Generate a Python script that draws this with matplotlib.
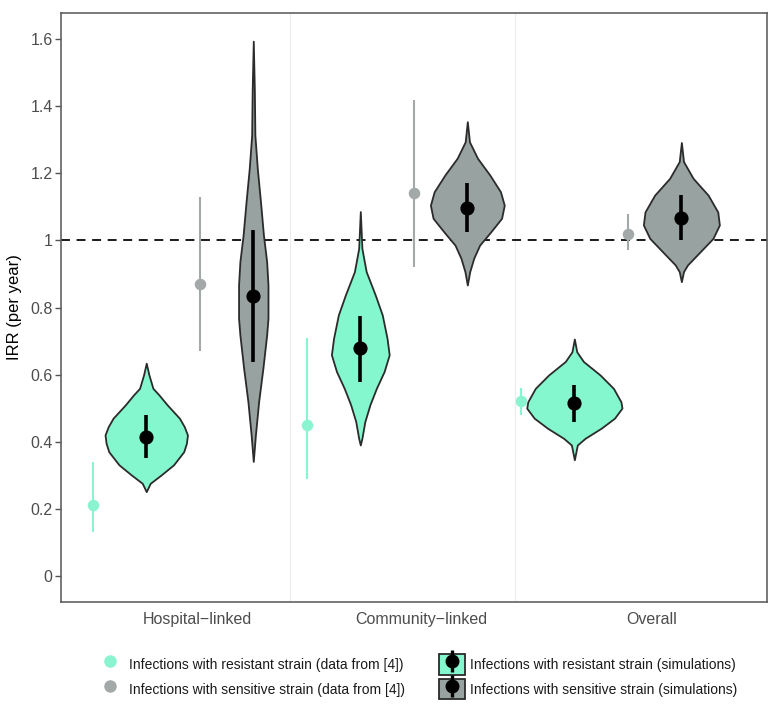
import matplotlib
matplotlib.use("Agg")
import matplotlib.pyplot as plt
from matplotlib.lines import Line2D
from matplotlib.patches import Patch
from matplotlib.legend_handler import HandlerTuple

plt.rcParams['font.family'] = ['Liberation Sans', 'DejaVu Sans']

# ---- data ----
categories = ["Hospital\u2212linked", "Community\u2212linked", "Overall"]

# observed IRR (data from [4]): point estimate and interval
obs_res_mid = [0.21, 0.45, 0.52]
obs_res_lo = [0.13, 0.29, 0.48]
obs_res_hi = [0.34, 0.71, 0.56]
obs_sen_mid = [0.87, 1.14, 1.02]
obs_sen_lo = [0.67, 0.92, 0.97]
obs_sen_hi = [1.13, 1.42, 1.08]

# simulated IRR: median and interval
sim_res_mid = [0.415, 0.678, 0.514]
sim_res_lo = [0.352, 0.579, 0.460]
sim_res_hi = [0.480, 0.775, 0.569]
sim_sen_mid = [0.834, 1.098, 1.068]
sim_sen_lo = [0.637, 1.026, 1.001]
sim_sen_hi = [1.031, 1.170, 1.135]

# violin outlines: IRR levels and half-widths
vio_res_y = [
    [0.634, 0.599, 0.559, 0.539, 0.510, 0.470, 0.445, 0.420, 0.395, 0.370, 0.331, 0.301, 0.276, 0.251],
    [1.086, 0.976, 0.907, 0.837, 0.778, 0.708, 0.659, 0.609, 0.559, 0.510, 0.460, 0.410, 0.390],
    [0.706, 0.668, 0.639, 0.599, 0.559, 0.519, 0.500, 0.470, 0.440, 0.410, 0.390, 0.346],
]
vio_res_w = [
    [0.0, 0.05, 0.125, 0.24, 0.39, 0.62, 0.71, 0.77, 0.75, 0.70, 0.51, 0.28, 0.075, 0.0],
    [0.0, 0.03, 0.11, 0.28, 0.41, 0.50, 0.54, 0.445, 0.30, 0.18, 0.085, 0.03, 0.0],
    [0.0, 0.045, 0.17, 0.48, 0.73, 0.87, 0.89, 0.75, 0.50, 0.20, 0.055, 0.0],
]
vio_sen_y = [
    [1.594, 1.45, 1.314, 1.215, 1.115, 1.016, 0.937, 0.867, 0.768, 0.718, 0.619, 0.519, 0.420, 0.341],
    [1.354, 1.294, 1.245, 1.195, 1.145, 1.105, 1.066, 1.026, 0.986, 0.947, 0.907, 0.867],
    [1.292, 1.235, 1.185, 1.135, 1.085, 1.046, 1.006, 0.966, 0.927, 0.907, 0.877],
]
vio_sen_w = [
    [0.0, 0.02, 0.03, 0.075, 0.135, 0.19, 0.25, 0.275, 0.275, 0.25, 0.18, 0.10, 0.04, 0.0],
    [0.0, 0.04, 0.19, 0.42, 0.62, 0.69, 0.64, 0.44, 0.23, 0.12, 0.045, 0.0],
    [0.0, 0.04, 0.22, 0.50, 0.68, 0.71, 0.59, 0.35, 0.115, 0.04, 0.0],
]

yticks = [0, 0.2, 0.4, 0.6, 0.8, 1.0, 1.2, 1.4, 1.6]
ytick_labels = ["0", "0.2", "0.4", "0.6", "0.8", "1", "1.2", "1.4", "1.6"]

# ---- styling ----
RES_FILL = "#85f7cf"
SEN_FILL = "#98a2a1"
RES_PT = "#8af3cf"
SEN_PT = "#a3a9a8"
EDGE = "#2b2b2b"

fig = plt.figure(figsize=(7.84, 7.17), dpi=100)
ax = fig.add_axes([61 / 784, 115 / 717, 706 / 784, 589 / 717])

# separators between groups
for xs in [3.69, 7.89]:
    ax.axvline(xs, color="#ececec", lw=0.8, zorder=0)

ax.axhline(1.0, color="#1a1a1a", lw=1.4, dashes=(4.6, 3.4), zorder=1)

for g in range(3):
    base = 4 * g
    # observed resistant
    ax.vlines(base, obs_res_lo[g], obs_res_hi[g], color=RES_PT, lw=1.5, zorder=2)
    ax.plot(base, obs_res_mid[g], "o", color=RES_PT, ms=8.3, mec="none", zorder=3)
    # simulated resistant
    ax.fill_betweenx(vio_res_y[g], [base + 1 - w for w in vio_res_w[g]],
                     [base + 1 + w for w in vio_res_w[g]],
                     facecolor=RES_FILL, edgecolor=EDGE, lw=1.3, zorder=2)
    ax.vlines(base + 1, sim_res_lo[g], sim_res_hi[g], color="black", lw=2.6, zorder=4)
    ax.plot(base + 1, sim_res_mid[g], "o", color="black", ms=9.2, zorder=5)
    # observed sensitive
    ax.vlines(base + 2, obs_sen_lo[g], obs_sen_hi[g], color=SEN_PT, lw=1.5, zorder=2)
    ax.plot(base + 2, obs_sen_mid[g], "o", color=SEN_PT, ms=8.3, mec="none", zorder=3)
    # simulated sensitive
    ax.fill_betweenx(vio_sen_y[g], [base + 3 - w for w in vio_sen_w[g]],
                     [base + 3 + w for w in vio_sen_w[g]],
                     facecolor=SEN_FILL, edgecolor=EDGE, lw=1.3, zorder=2)
    ax.vlines(base + 3, sim_sen_lo[g], sim_sen_hi[g], color="black", lw=2.6, zorder=4)
    ax.plot(base + 3, sim_sen_mid[g], "o", color="black", ms=9.2, zorder=5)

ax.set_xlim(-0.593, 12.60)
ax.set_ylim(-0.078, 1.678)
ax.set_xticks([1.95, 6.14, 10.44])
ax.set_xticklabels(categories)
ax.set_yticks(yticks)
ax.set_yticklabels(ytick_labels)
ax.tick_params(axis="x", length=0, pad=7, labelsize=11.5, labelcolor="#4d4d4d")
ax.tick_params(axis="y", length=4, width=1, color="#555555", pad=2,
               labelsize=11.5, labelcolor="#4d4d4d")
for s in ax.spines.values():
    s.set_color("#555555")
    s.set_linewidth(1.1)
ax.set_ylabel("IRR (per year)", fontsize=12, color="black", labelpad=6)

# ---- legend ----
h_obs_res = Line2D([], [], ls="none", marker="o", color=RES_PT, ms=9, mec="none")
h_obs_sen = Line2D([], [], ls="none", marker="o", color=SEN_PT, ms=9, mec="none")


def sim_handle(fill):
    box = Patch(facecolor=fill, edgecolor=EDGE, lw=1.3)
    bar = Line2D([], [], ls="none", marker="|", color="black", ms=16.5, mew=2.4)
    dot = Line2D([], [], ls="none", marker="o", color="black", ms=9)
    return (box, bar, dot)


handles = [h_obs_res, h_obs_sen, sim_handle(RES_FILL), sim_handle(SEN_FILL)]
labels = ["Infections with resistant strain (data from [4])",
          "Infections with sensitive strain (data from [4])",
          "Infections with resistant strain (simulations)",
          "Infections with sensitive strain (simulations)"]
leg = fig.legend(handles, labels, ncol=2, loc="center", bbox_to_anchor=(0.5325, 0.0562),
                 frameon=False, fontsize=10, handlelength=1.9, handleheight=1.9,
                 columnspacing=2.4, handletextpad=0.4, labelspacing=0.3,
                 handler_map={tuple: HandlerTuple(ndivide=1, pad=0)})
for t in leg.get_texts():
    t.set_color("#1a1a1a")

fig.savefig("out.png", dpi=100)
